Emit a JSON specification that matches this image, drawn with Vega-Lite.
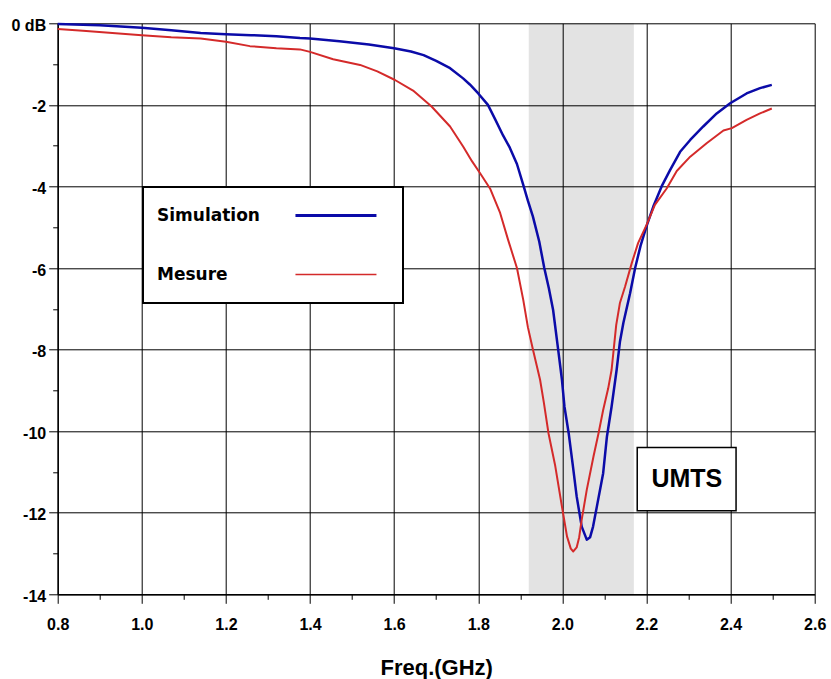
{
  "$schema": "https://vega.github.io/schema/vega-lite/v6.json",
  "width": 757,
  "height": 571,
  "autosize": "none",
  "padding": {"left": 57.7, "top": 23.3, "right": 16.3, "bottom": 84.7},
  "background": "white",
  "config": {"view": {"stroke": null}},
  "datasets": {
    "curves": [
      {"f": 0.80, "db": -0.02, "series": "Simulation"},
      {"f": 0.90, "db": -0.05, "series": "Simulation"},
      {"f": 0.94, "db": -0.07, "series": "Simulation"},
      {"f": 1.00, "db": -0.11, "series": "Simulation"},
      {"f": 1.07, "db": -0.17, "series": "Simulation"},
      {"f": 1.14, "db": -0.24, "series": "Simulation"},
      {"f": 1.20, "db": -0.27, "series": "Simulation"},
      {"f": 1.26, "db": -0.29, "series": "Simulation"},
      {"f": 1.32, "db": -0.32, "series": "Simulation"},
      {"f": 1.376, "db": -0.36, "series": "Simulation"},
      {"f": 1.40, "db": -0.37, "series": "Simulation"},
      {"f": 1.47, "db": -0.44, "series": "Simulation"},
      {"f": 1.54, "db": -0.52, "series": "Simulation"},
      {"f": 1.60, "db": -0.61, "series": "Simulation"},
      {"f": 1.64, "db": -0.69, "series": "Simulation"},
      {"f": 1.67, "db": -0.78, "series": "Simulation"},
      {"f": 1.70, "db": -0.92, "series": "Simulation"},
      {"f": 1.733, "db": -1.10, "series": "Simulation"},
      {"f": 1.764, "db": -1.35, "series": "Simulation"},
      {"f": 1.78, "db": -1.50, "series": "Simulation"},
      {"f": 1.80, "db": -1.72, "series": "Simulation"},
      {"f": 1.823, "db": -2.00, "series": "Simulation"},
      {"f": 1.84, "db": -2.35, "series": "Simulation"},
      {"f": 1.859, "db": -2.75, "series": "Simulation"},
      {"f": 1.875, "db": -3.05, "series": "Simulation"},
      {"f": 1.892, "db": -3.45, "series": "Simulation"},
      {"f": 1.907, "db": -3.96, "series": "Simulation"},
      {"f": 1.918, "db": -4.35, "series": "Simulation"},
      {"f": 1.93, "db": -4.74, "series": "Simulation"},
      {"f": 1.945, "db": -5.35, "series": "Simulation"},
      {"f": 1.957, "db": -6.0, "series": "Simulation"},
      {"f": 1.968, "db": -6.5, "series": "Simulation"},
      {"f": 1.978, "db": -7.03, "series": "Simulation"},
      {"f": 1.99, "db": -8.0, "series": "Simulation"},
      {"f": 1.999, "db": -8.74, "series": "Simulation"},
      {"f": 2.005, "db": -9.4, "series": "Simulation"},
      {"f": 2.015, "db": -10.05, "series": "Simulation"},
      {"f": 2.025, "db": -10.85, "series": "Simulation"},
      {"f": 2.034, "db": -11.6, "series": "Simulation"},
      {"f": 2.046, "db": -12.34, "series": "Simulation"},
      {"f": 2.058, "db": -12.66, "series": "Simulation"},
      {"f": 2.066, "db": -12.6, "series": "Simulation"},
      {"f": 2.073, "db": -12.34, "series": "Simulation"},
      {"f": 2.082, "db": -11.85, "series": "Simulation"},
      {"f": 2.097, "db": -11.03, "series": "Simulation"},
      {"f": 2.106, "db": -10.13, "series": "Simulation"},
      {"f": 2.117, "db": -9.4, "series": "Simulation"},
      {"f": 2.129, "db": -8.5, "series": "Simulation"},
      {"f": 2.137, "db": -7.8, "series": "Simulation"},
      {"f": 2.145, "db": -7.35, "series": "Simulation"},
      {"f": 2.161, "db": -6.62, "series": "Simulation"},
      {"f": 2.173, "db": -6.0, "series": "Simulation"},
      {"f": 2.186, "db": -5.45, "series": "Simulation"},
      {"f": 2.20, "db": -4.98, "series": "Simulation"},
      {"f": 2.216, "db": -4.5, "series": "Simulation"},
      {"f": 2.236, "db": -4.0, "series": "Simulation"},
      {"f": 2.256, "db": -3.6, "series": "Simulation"},
      {"f": 2.28, "db": -3.15, "series": "Simulation"},
      {"f": 2.304, "db": -2.86, "series": "Simulation"},
      {"f": 2.335, "db": -2.53, "series": "Simulation"},
      {"f": 2.367, "db": -2.21, "series": "Simulation"},
      {"f": 2.399, "db": -1.96, "series": "Simulation"},
      {"f": 2.438, "db": -1.72, "series": "Simulation"},
      {"f": 2.47, "db": -1.59, "series": "Simulation"},
      {"f": 2.498, "db": -1.51, "series": "Simulation"},
      {"f": 0.80, "db": -0.14, "series": "Mesure"},
      {"f": 0.86, "db": -0.18, "series": "Mesure"},
      {"f": 0.93, "db": -0.24, "series": "Mesure"},
      {"f": 1.00, "db": -0.29, "series": "Mesure"},
      {"f": 1.07, "db": -0.34, "series": "Mesure"},
      {"f": 1.14, "db": -0.37, "series": "Mesure"},
      {"f": 1.20, "db": -0.45, "series": "Mesure"},
      {"f": 1.257, "db": -0.56, "series": "Mesure"},
      {"f": 1.32, "db": -0.61, "series": "Mesure"},
      {"f": 1.376, "db": -0.64, "series": "Mesure"},
      {"f": 1.40, "db": -0.70, "series": "Mesure"},
      {"f": 1.455, "db": -0.88, "series": "Mesure"},
      {"f": 1.519, "db": -1.02, "series": "Mesure"},
      {"f": 1.56, "db": -1.18, "series": "Mesure"},
      {"f": 1.602, "db": -1.39, "series": "Mesure"},
      {"f": 1.645, "db": -1.65, "series": "Mesure"},
      {"f": 1.689, "db": -2.04, "series": "Mesure"},
      {"f": 1.733, "db": -2.53, "series": "Mesure"},
      {"f": 1.764, "db": -3.02, "series": "Mesure"},
      {"f": 1.785, "db": -3.38, "series": "Mesure"},
      {"f": 1.804, "db": -3.67, "series": "Mesure"},
      {"f": 1.828, "db": -4.05, "series": "Mesure"},
      {"f": 1.852, "db": -4.65, "series": "Mesure"},
      {"f": 1.871, "db": -5.31, "series": "Mesure"},
      {"f": 1.892, "db": -6.0, "series": "Mesure"},
      {"f": 1.907, "db": -6.78, "series": "Mesure"},
      {"f": 1.918, "db": -7.45, "series": "Mesure"},
      {"f": 1.93, "db": -8.0, "series": "Mesure"},
      {"f": 1.947, "db": -8.74, "series": "Mesure"},
      {"f": 1.956, "db": -9.3, "series": "Mesure"},
      {"f": 1.967, "db": -10.05, "series": "Mesure"},
      {"f": 1.983, "db": -10.85, "series": "Mesure"},
      {"f": 1.999, "db": -11.85, "series": "Mesure"},
      {"f": 2.011, "db": -12.58, "series": "Mesure"},
      {"f": 2.02, "db": -12.88, "series": "Mesure"},
      {"f": 2.026, "db": -12.95, "series": "Mesure"},
      {"f": 2.034, "db": -12.85, "series": "Mesure"},
      {"f": 2.04, "db": -12.6, "series": "Mesure"},
      {"f": 2.046, "db": -12.17, "series": "Mesure"},
      {"f": 2.058, "db": -11.44, "series": "Mesure"},
      {"f": 2.074, "db": -10.62, "series": "Mesure"},
      {"f": 2.086, "db": -10.05, "series": "Mesure"},
      {"f": 2.097, "db": -9.48, "series": "Mesure"},
      {"f": 2.109, "db": -8.95, "series": "Mesure"},
      {"f": 2.117, "db": -8.5, "series": "Mesure"},
      {"f": 2.122, "db": -8.0, "series": "Mesure"},
      {"f": 2.128, "db": -7.4, "series": "Mesure"},
      {"f": 2.137, "db": -6.85, "series": "Mesure"},
      {"f": 2.149, "db": -6.46, "series": "Mesure"},
      {"f": 2.165, "db": -5.88, "series": "Mesure"},
      {"f": 2.18, "db": -5.39, "series": "Mesure"},
      {"f": 2.20, "db": -4.95, "series": "Mesure"},
      {"f": 2.22, "db": -4.45, "series": "Mesure"},
      {"f": 2.248, "db": -4.05, "series": "Mesure"},
      {"f": 2.272, "db": -3.62, "series": "Mesure"},
      {"f": 2.304, "db": -3.27, "series": "Mesure"},
      {"f": 2.343, "db": -2.94, "series": "Mesure"},
      {"f": 2.383, "db": -2.63, "series": "Mesure"},
      {"f": 2.403, "db": -2.57, "series": "Mesure"},
      {"f": 2.438, "db": -2.37, "series": "Mesure"},
      {"f": 2.47, "db": -2.21, "series": "Mesure"},
      {"f": 2.498, "db": -2.09, "series": "Mesure"}
    ]
  },
  "encoding": {
    "x": {
      "type": "quantitative",
      "scale": {"domain": [0.8, 2.6], "nice": false, "zero": false},
      "axis": {
        "values": [0.8, 0.9, 1.0, 1.1, 1.2, 1.3, 1.4, 1.5, 1.6, 1.7, 1.8, 1.9, 2.0, 2.1, 2.2, 2.3, 2.4, 2.5, 2.6],
        "labelExpr": "abs(datum.value * 5 - round(datum.value * 5)) < 0.001 ? format(datum.value, '.1f') : ''",
        "tickSize": {"condition": {"test": "abs(datum.value * 5 - round(datum.value * 5)) < 0.001", "value": 9}, "value": 5},
        "grid": true,
        "gridColor": "black",
        "gridWidth": 1,
        "gridOpacity": {"condition": {"test": "abs(datum.value * 5 - round(datum.value * 5)) < 0.001", "value": 1}, "value": 0},
        "domainColor": "black",
        "domainWidth": 1.5,
        "tickColor": "black",
        "tickWidth": 1,
        "labelFont": "Liberation Sans",
        "labelFontSize": 16,
        "labelFontWeight": "bold",
        "labelColor": "black",
        "labelPadding": 13,
        "labelFlush": false,
        "labelOverlap": false,
        "title": "Freq.(GHz)",
        "titleFont": "Liberation Sans",
        "titleFontSize": 22,
        "titleFontWeight": "bold",
        "titleColor": "black",
        "titlePadding": 25
      }
    },
    "y": {
      "type": "quantitative",
      "scale": {"domain": [-14, 0], "nice": false, "zero": false},
      "axis": {
        "values": [0, -1, -2, -3, -4, -5, -6, -7, -8, -9, -10, -11, -12, -13, -14],
        "labelExpr": "datum.value % 2 == 0 ? (datum.value == 0 ? '0 dB' : '' + datum.value) : ''",
        "tickSize": {"condition": {"test": "datum.value % 2 == 0", "value": 9}, "value": 5},
        "grid": true,
        "gridColor": "black",
        "gridWidth": 1,
        "gridOpacity": {"condition": {"test": "datum.value % 2 == 0", "value": 1}, "value": 0},
        "domainColor": "black",
        "domainWidth": 1.5,
        "tickColor": "black",
        "tickWidth": 1,
        "labelFont": "Liberation Sans",
        "labelFontSize": 16,
        "labelFontWeight": "bold",
        "labelColor": "black",
        "labelPadding": 3,
        "labelOffset": 2,
        "labelOverlap": false,
        "title": null
      }
    }
  },
  "layer": [
    {
      "data": {"values": [{"start": 1.92, "end": 2.17}]},
      "mark": {"type": "rect", "color": "black", "opacity": 0.11},
      "encoding": {
        "x": {"field": "start", "type": "quantitative"},
        "x2": {"field": "end"},
        "y": {"datum": 0, "type": "quantitative"},
        "y2": {"datum": -14}
      }
    },
    {
      "data": {"name": "curves"},
      "mark": {"type": "line", "strokeJoin": "round"},
      "encoding": {
        "x": {"field": "f", "type": "quantitative"},
        "y": {"field": "db", "type": "quantitative"},
        "color": {
          "field": "series",
          "type": "nominal",
          "scale": {"domain": ["Simulation", "Mesure"], "range": ["#0b0ba8", "#d42a2a"]},
          "legend": {
            "orient": "none",
            "legendX": 85.3,
            "legendY": 163.7,
            "title": null,
            "direction": "vertical",
            "symbolType": "M10.33,0L17.08,0",
            "symbolSize": 576,
            "symbolStrokeWidth": 3,
            "labelFont": "DejaVu Sans",
            "labelFontSize": 17,
            "labelFontWeight": "bold",
            "labelColor": "black",
            "labelOffset": -23,
            "labelLimit": 0,
            "rowPadding": 41,
            "padding": 20,
            "strokeColor": "black",
            "fillColor": "white",
            "encode": {
              "legend": {"update": {"strokeWidth": {"value": 2}}},
              "symbols": {"update": {"strokeWidth": {"signal": "datum.value == 'Simulation' ? 3 : 1.5"}, "fill": {"value": "transparent"}}}
            }
          }
        },
        "strokeWidth": {"condition": {"test": "datum.series == 'Simulation'", "value": 2.5}, "value": 2},
        "order": {"field": "f", "type": "quantitative"}
      }
    },
    {
      "data": {"values": [{"label": "UMTS", "f0": 2.178, "f1": 2.413, "d0": -10.4, "d1": -11.95, "fc": 2.296, "dc": -11.17}]},
      "layer": [
        {
          "mark": {"type": "rect", "fill": "white", "stroke": "black", "strokeWidth": 1.5},
          "encoding": {
            "x": {"field": "f0", "type": "quantitative"},
            "x2": {"field": "f1"},
            "y": {"field": "d0", "type": "quantitative"},
            "y2": {"field": "d1"}
          }
        },
        {
          "mark": {"type": "text", "font": "Liberation Sans", "fontSize": 25, "fontWeight": "bold", "color": "black", "align": "center", "baseline": "middle"},
          "encoding": {
            "x": {"field": "fc", "type": "quantitative"},
            "y": {"field": "dc", "type": "quantitative"},
            "text": {"field": "label"}
          }
        }
      ]
    }
  ]
}
